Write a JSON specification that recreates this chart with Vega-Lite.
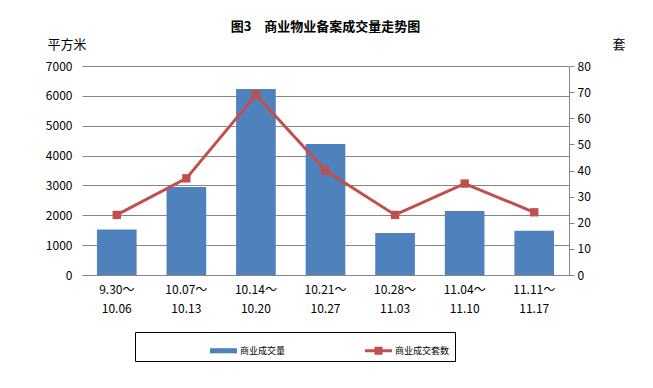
{
  "$schema": "https://vega.github.io/schema/vega-lite/v6.json",
  "autosize": {"type": "none"},
  "padding": {"left": 82, "top": 66, "right": 84, "bottom": 113},
  "width": 487,
  "height": 209,
  "background": "white",
  "title": {"text": "图3　商业物业备案成交量走势图", "font": "Noto Sans CJK SC", "fontSize": 13, "fontWeight": "bold", "color": "#000000", "anchor": "middle", "offset": 4},
  "data": {"values": [
    {"period": "9.30～|10.06", "area": 1520, "count": 23},
    {"period": "10.07～|10.13", "area": 2950, "count": 37},
    {"period": "10.14～|10.20", "area": 6230, "count": 69},
    {"period": "10.21～|10.27", "area": 4390, "count": 40},
    {"period": "10.28～|11.03", "area": 1410, "count": 23},
    {"period": "11.04～|11.10", "area": 2140, "count": 35},
    {"period": "11.11～|11.17", "area": 1480, "count": 24}
  ]},
  "encoding": {
    "x": {"field": "period", "type": "nominal", "sort": null,
      "scale": {"paddingInner": 0.43, "paddingOuter": 0.215},
      "axis": {"title": null, "labelAngle": 0, "labelExpr": "split(datum.label, '|')", "labelFont": "Noto Sans CJK SC", "labelFontSize": 12, "labelColor": "#000000", "labelPadding": 9, "labelLineHeight": 19, "ticks": false, "domainColor": "#868686", "domainWidth": 1}}
  },
  "layer": [
    {
      "mark": {"type": "bar", "color": "#4F81BD"},
      "encoding": {
        "y": {"field": "area", "type": "quantitative", "scale": {"domain": [0, 7000]},
          "axis": {"title": "平方米", "format": "d", "titleAngle": 0, "titleX": -35, "titleY": -22, "titleAlign": "left", "titleBaseline": "middle", "titleFont": "Noto Sans CJK SC", "titleFontSize": 13, "titleFontWeight": "normal", "titleColor": "#000000",
            "values": [0, 1000, 2000, 3000, 4000, 5000, 6000, 7000], "grid": true, "gridColor": "#868686", "gridWidth": 1, "domain": false, "ticks": false, "labelPadding": 10, "labelFont": "Noto Sans CJK SC", "labelFontSize": 12, "labelColor": "#000000"}},
        "color": {"datum": "商业成交量", "type": "nominal",
          "scale": {"domain": ["商业成交量", "商业成交套数"], "range": ["#4F81BD", "#C0504D"]},
          "legend": {
            "orient": "none", "legendX": 53, "legendY": 266, "direction": "horizontal",
            "title": " ", "titleOrient": "left", "titlePadding": 70, "titleFontSize": 9,
            "strokeColor": "#000000", "fillColor": "#FFFFFF", "padding": 5,
            "columnPadding": 79, "symbolSize": 729, "labelOffset": 3,
            "labelFont": "Noto Sans CJK SC", "labelFontSize": 9, "labelColor": "#000000",
            "labelExpr": "datum.label == '商业成交套数' ? datum.label + '　　　　　　　　' : datum.label",
            "encode": {"symbols": {"update": {
              "shape": {"signal": "datum.value == '商业成交量' ? 'M-1,-0.19H1V0.19H-1Z' : 'M-1,-0.11H1V0.11H-1Z M-0.3,-0.3H0.3V0.3H-0.3Z'"},
              "fill": {"signal": "datum.value == '商业成交量' ? '#4F81BD' : '#C0504D'"},
              "stroke": {"value": "transparent"},
              "strokeWidth": {"value": 0},
              "opacity": {"value": 1},
              "fillOpacity": {"value": 1}
            }}}
          }}
      }
    },
    {
      "mark": {"type": "line", "color": "#C0504D", "strokeWidth": 3, "point": {"shape": "square", "size": 70, "filled": true, "color": "#C0504D", "opacity": 1}},
      "encoding": {
        "y": {"field": "count", "type": "quantitative", "scale": {"domain": [0, 80]},
          "axis": {"orient": "right", "title": "套", "titleAngle": 0, "titleX": 43, "titleY": -22, "titleAlign": "left", "titleBaseline": "middle", "titleFont": "Noto Sans CJK SC", "titleFontSize": 13, "titleFontWeight": "normal", "titleColor": "#000000",
            "values": [0, 10, 20, 30, 40, 50, 60, 70, 80], "grid": false, "domain": true, "domainColor": "#868686", "ticks": true, "tickColor": "#868686", "tickSize": 5, "labelPadding": 3, "labelFont": "Noto Sans CJK SC", "labelFontSize": 12, "labelColor": "#000000"}},
        "color": {"datum": "商业成交套数", "type": "nominal"}
      }
    }
  ],
  "resolve": {"scale": {"y": "independent"}},
  "config": {"view": {"stroke": null}, "axis": {"labelOverlap": false}}
}
